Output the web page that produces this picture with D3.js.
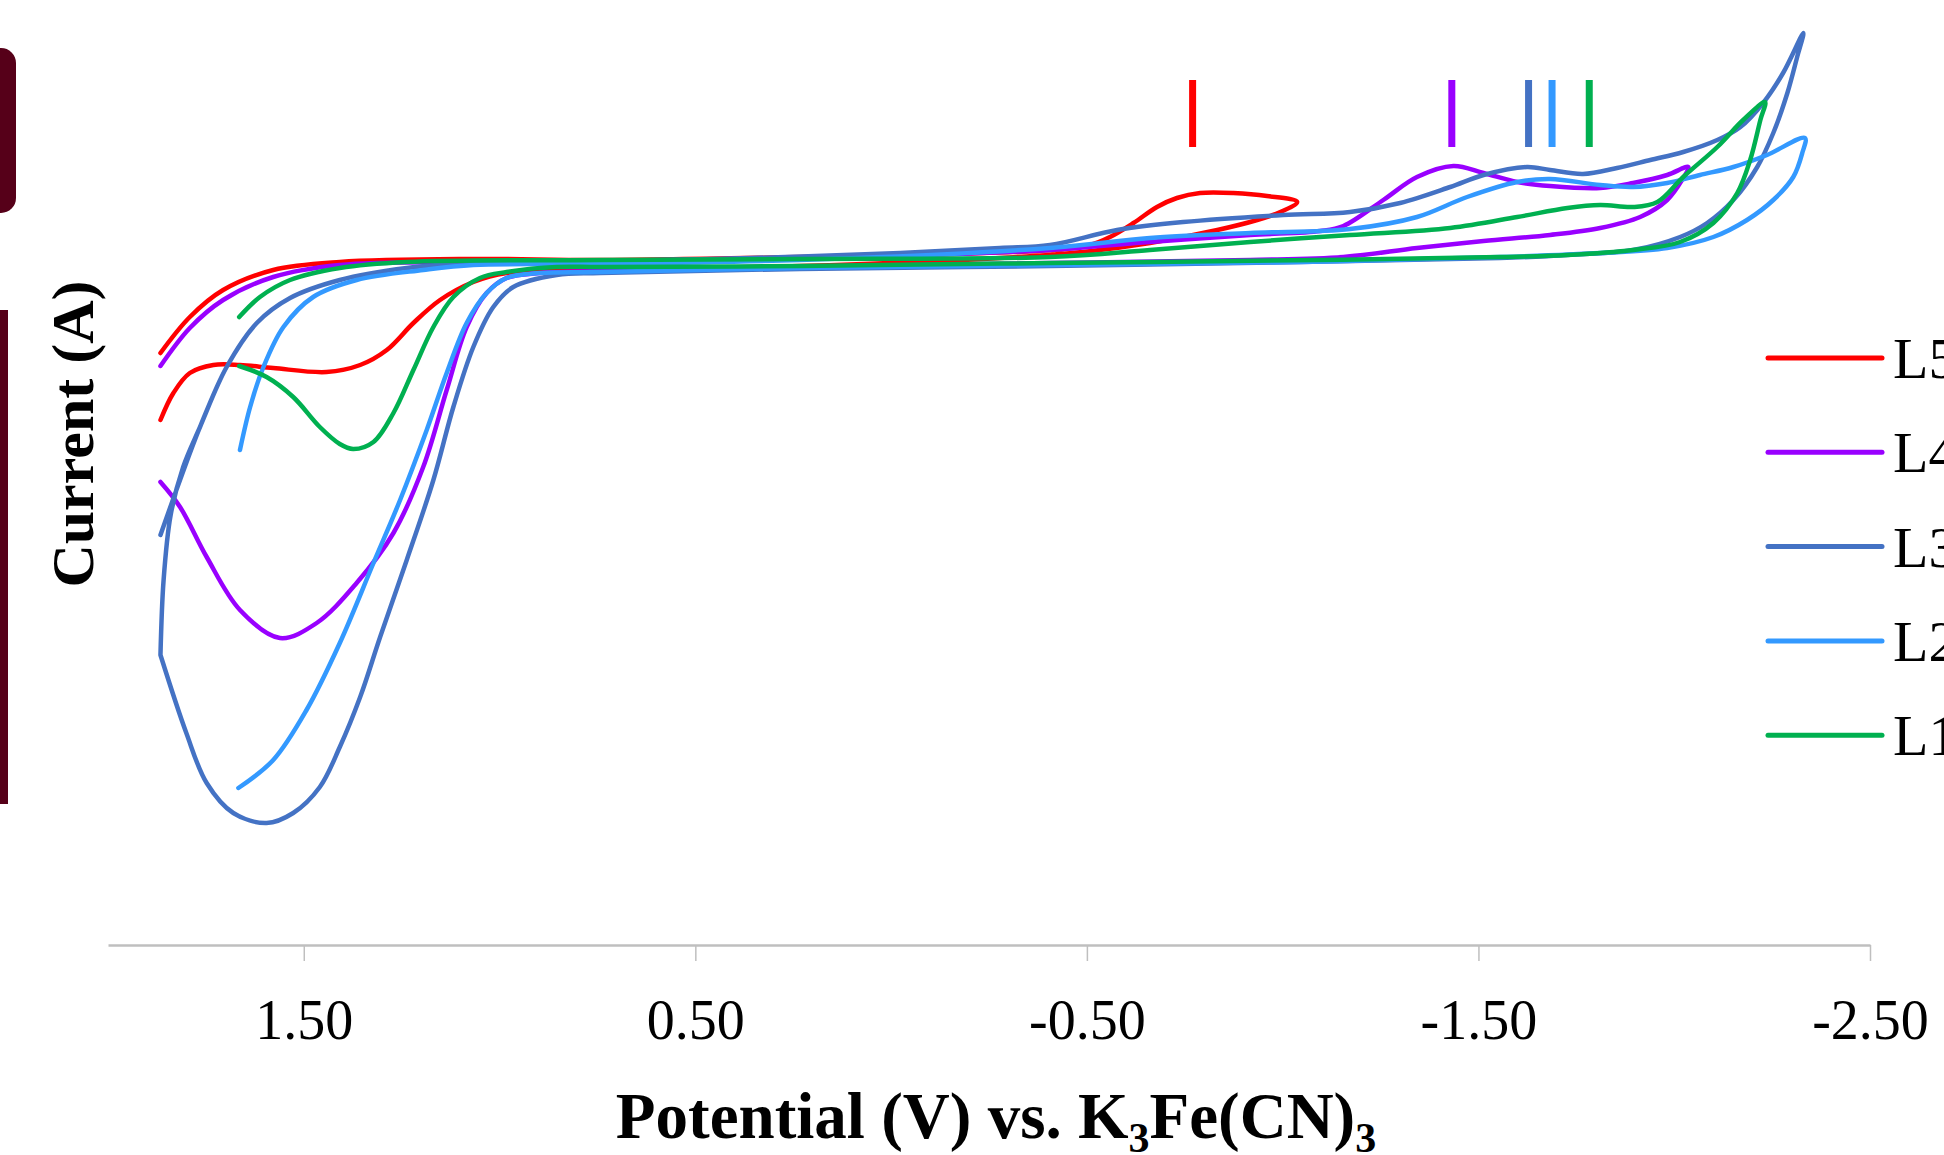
<!DOCTYPE html>
<html>
<head>
<meta charset="utf-8">
<script src="https://cdn.jsdelivr.net/npm/d3@7"></script>
<style>
  body { margin: 0; background: #fff; }
  svg { display: block; }
</style>
</head>
<body>
<div id="chart"></div>
<script>
// series names, in drawing order (L1 ends up on top)
const seriesNames = ["L5", "L4", "L3", "L2", "L1"]
const seriesColors = ["#ff0000", "#9900ff", "#4472c4", "#3399ff", "#00b050"]

// [potential (V), current] pairs, in scan order
const L5 = [[1.866,-16.5],[1.833,-13.8],[1.791,-11.8],[1.731,-11.0],[1.663,-11.0],[1.578,-11.3],[1.442,-11.7],[1.356,-11.0],[1.288,-9.5],[1.220,-6.8],[1.152,-4.5],[1.067,-2.7],[0.982,-1.8],[0.812,-1.5],[0.233,-1.1],[-0.278,-0.3],[-0.490,0.3],[-0.661,1.2],[-0.833,2.5],[-0.935,3.5],[-0.994,4.3],[-1.037,5.3],[-0.960,5.9],[-0.874,6.2],[-0.789,6.2],[-0.730,5.7],[-0.679,4.8],[-0.619,3.2],[-0.559,1.8],[-0.508,1.0],[-0.406,0.5],[-0.151,0.1],[0.233,-0.2],[0.743,-0.5],[1.067,-0.4],[1.408,-0.7],[1.578,-1.5],[1.706,-3.5],[1.791,-6.2],[1.866,-9.8]]

const L4 = [[1.866,-11.1],[1.791,-7.3],[1.706,-4.5],[1.578,-2.2],[1.408,-1.0],[1.067,-0.7],[0.743,-0.6],[0.233,-0.3],[-0.151,0.1],[-0.406,0.5],[-0.661,1.3],[-0.917,2.0],[-1.096,2.4],[-1.155,2.9],[-1.257,5.5],[-1.343,7.8],[-1.436,8.9],[-1.513,8.2],[-1.599,7.3],[-1.683,6.9],[-1.811,6.7],[-1.895,7.2],[-1.982,8.0],[-2.036,8.8],[-2.020,7.5],[-1.982,5.5],[-1.913,3.8],[-1.811,2.7],[-1.683,2.0],[-1.513,1.4],[-1.343,0.7],[-1.155,-0.2],[-0.917,-0.5],[-0.406,-0.8],[0.233,-1.2],[0.743,-1.6],[0.897,-1.8],[0.982,-2.3],[1.033,-3.8],[1.084,-7.2],[1.135,-13.5],[1.195,-21.2],[1.271,-27.8],[1.365,-32.8],[1.467,-36.8],[1.561,-38.3],[1.663,-35.5],[1.748,-30.2],[1.816,-25.2],[1.866,-22.7]]

// the scan turns sharply at 1.866 V, so that point is listed twice
const L3 = [[1.866,-28.0],[1.816,-22.5],[1.765,-17.2],[1.697,-11.2],[1.620,-6.8],[1.535,-4.3],[1.408,-2.5],[1.237,-1.3],[1.067,-0.8],[0.743,-0.6],[0.360,-0.3],[-0.023,0.2],[-0.278,0.7],[-0.406,1.0],[-0.577,2.5],[-0.746,3.3],[-1.001,4.0],[-1.172,4.3],[-1.300,5.2],[-1.428,6.8],[-1.513,8.0],[-1.624,8.8],[-1.683,8.5],[-1.767,8.1],[-1.854,8.7],[-1.939,9.5],[-2.023,10.3],[-2.110,11.5],[-2.169,12.8],[-2.227,15.2],[-2.278,18.2],[-2.330,22.2],[-2.314,19.8],[-2.289,16.2],[-2.253,12.2],[-2.212,8.8],[-2.151,5.5],[-2.084,3.2],[-2.015,1.8],[-1.895,0.5],[-1.727,0.0],[-1.555,-0.3],[-1.045,-0.7],[-0.406,-1.1],[0.233,-1.4],[0.743,-1.8],[0.854,-2.0],[0.965,-3.2],[1.016,-5.2],[1.067,-9.2],[1.118,-15.2],[1.169,-22.5],[1.237,-30.5],[1.305,-38.2],[1.356,-44.2],[1.408,-49.2],[1.459,-53.2],[1.527,-55.8],[1.595,-56.8],[1.680,-55.8],[1.748,-52.8],[1.800,-47.8],[1.866,-40.0],[1.866,-40.0],[1.858,-32.5],[1.840,-26.0],[1.808,-21.2],[1.765,-17.2],[1.697,-11.2],[1.620,-6.8],[1.535,-4.3],[1.408,-2.5],[1.237,-1.3],[1.067,-0.8]]

const L2 = [[1.663,-19.5],[1.637,-15.2],[1.603,-11.2],[1.552,-7.2],[1.476,-4.2],[1.365,-2.5],[1.195,-1.5],[1.067,-1.0],[0.743,-0.9],[0.233,-0.5],[-0.406,0.7],[-0.661,1.7],[-0.917,2.2],[-1.172,2.6],[-1.343,3.8],[-1.471,5.8],[-1.599,7.3],[-1.683,7.6],[-1.811,7.0],[-1.895,6.8],[-1.982,7.2],[-2.066,8.0],[-2.151,8.8],[-2.237,10.0],[-2.334,11.7],[-2.327,10.2],[-2.304,7.8],[-2.253,5.5],[-2.186,3.5],[-2.100,1.8],[-1.982,0.7],[-1.811,0.2],[-1.555,-0.2],[-1.045,-0.7],[-0.406,-1.0],[0.233,-1.3],[0.743,-1.7],[0.897,-1.8],[0.982,-2.3],[1.033,-3.8],[1.084,-6.8],[1.135,-11.8],[1.186,-17.5],[1.254,-24.5],[1.322,-30.8],[1.408,-38.8],[1.493,-45.5],[1.578,-50.5],[1.667,-53.3]]

const L1 = [[1.665,-6.2],[1.612,-4.2],[1.535,-2.5],[1.408,-1.3],[1.237,-0.7],[0.743,-0.5],[0.233,-0.4],[-0.406,-0.2],[-0.661,0.5],[-0.917,1.3],[-1.172,2.0],[-1.428,2.7],[-1.599,3.8],[-1.727,4.7],[-1.811,5.0],[-1.895,4.8],[-1.957,5.3],[-2.023,7.8],[-2.110,10.8],[-2.176,13.5],[-2.232,15.3],[-2.220,13.5],[-2.194,9.5],[-2.161,6.2],[-2.100,3.2],[-2.015,1.3],[-1.895,0.5],[-1.727,0.0],[-1.555,-0.2],[-1.088,-0.5],[-0.406,-0.8],[0.233,-1.1],[0.743,-1.2],[0.854,-1.2],[0.982,-1.7],[1.050,-2.3],[1.118,-4.2],[1.169,-7.2],[1.220,-11.5],[1.271,-15.8],[1.322,-18.7],[1.374,-19.4],[1.408,-18.9],[1.459,-17.2],[1.527,-14.2],[1.595,-12.2],[1.665,-11.1]]

// reduction peak markers (V), one per series, same order as seriesNames
const peakPotentials = [-0.770, -1.432, -1.628, -1.688, -1.783]
const peakMarkRange = [10.8, 17.5]

const xTicks = [1.5, 0.5, -0.5, -1.5, -2.5]
const xDomain = [2.0, -2.5]
const yDomain = [-69, 22]

const seriesData = [L5, L4, L3, L2, L1]

var config = {
    width: 1944,
    height: 1155,
    axisY: 945,
    topY: 35,
    left: 108,
    right: 1870,
    font: "'Liberation Serif', 'Times New Roman', serif",
    maroon: "#560019"
}
const { width, height, axisY, topY, left, right, font, maroon } = config

const xScale = d3.scaleLinear().domain(xDomain).range([left, right])
const yScale = d3.scaleLinear().domain(yDomain).range([axisY, topY])

const svg = d3.select("#chart")
    .append("svg")
    .attr("width", width)
    .attr("height", height)

svg.append("rect")
    .attr("width", width).attr("height", height)
    .attr("fill", "#fff")

// slide decorations at the left edge
svg.append("rect")
    .attr("x", -20).attr("y", 48)
    .attr("width", 36).attr("height", 165)
    .attr("rx", 15)
    .attr("fill", maroon)

svg.append("rect")
    .attr("x", 0).attr("y", 310)
    .attr("width", 8).attr("height", 494)
    .attr("fill", maroon)

// x axis
const xAxis = d3.axisBottom(xScale)
    .tickValues(xTicks)
    .tickFormat(d => d.toFixed(2))
    .tickSizeInner(16)
    .tickSizeOuter(0)
    .tickPadding(38)

const gx = svg.append("g")
    .attr("transform", "translate(0," + axisY + ")")
    .call(xAxis)

gx.select(".domain")
    .attr("stroke", "#bfbfbf")
    .attr("stroke-width", 2.5)
gx.selectAll(".tick line")
    .attr("stroke", "#bfbfbf")
    .attr("stroke-width", 1.5)
gx.selectAll(".tick text")
    .attr("fill", "#000")
    .style("font", "56px " + font)

// curves
const line = d3.line()
    .x(d => xScale(d[0]))
    .y(d => yScale(d[1]))
    .curve(d3.curveCatmullRom.alpha(0.5))

svg.selectAll(".cv")
    .data(seriesData)
    .enter().append("path")
    .attr("class", "cv")
    .attr("d", line)
    .attr("fill", "none")
    .attr("stroke", (d, i) => seriesColors[i])
    .attr("stroke-width", 4.5)
    .attr("stroke-linejoin", "round")
    .attr("stroke-linecap", "round")

// peak markers
svg.selectAll(".peak")
    .data(peakPotentials)
    .enter().append("line")
    .attr("class", "peak")
    .attr("x1", d => xScale(d))
    .attr("x2", d => xScale(d))
    .attr("y1", yScale(peakMarkRange[1]))
    .attr("y2", yScale(peakMarkRange[0]))
    .attr("stroke", (d, i) => seriesColors[i])
    .attr("stroke-width", 7)

// legend (runs off the right edge, as in the original)
const legend = svg.selectAll(".legend")
    .data(seriesNames)
    .enter().append("g")
    .attr("class", "legend")
    .attr("transform", (d, i) => "translate(1768," + (358 + i * 94.3) + ")")

legend.append("line")
    .attr("x1", 0).attr("x2", 114)
    .attr("stroke", (d, i) => seriesColors[i])
    .attr("stroke-width", 5)
    .attr("stroke-linecap", "round")

legend.append("text")
    .attr("x", 125)
    .attr("y", 20)
    .text(d => d)
    .style("font", "58px " + font)

// axis titles
const xTitle = svg.append("text")
    .attr("x", 996)
    .attr("y", 1138)
    .attr("text-anchor", "middle")
    .style("font", "bold 65px " + font)

xTitle.append("tspan").text("Potential (V) vs. K")
xTitle.append("tspan").attr("dy", 14).style("font-size", "42px").text("3")
xTitle.append("tspan").attr("dy", -14).text("Fe(CN)")
xTitle.append("tspan").attr("dy", 14).style("font-size", "42px").text("3")

svg.append("text")
    .attr("transform", "translate(93,434) rotate(-90)")
    .attr("text-anchor", "middle")
    .text("Current (A)")
    .style("font", "bold 60px " + font)
</script>
</body>
</html>
